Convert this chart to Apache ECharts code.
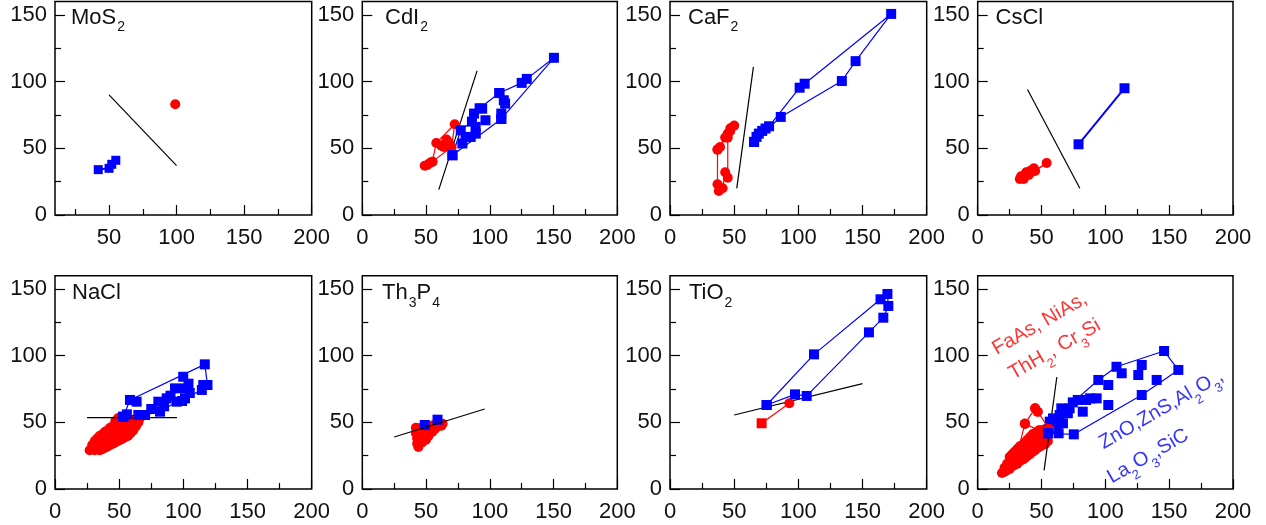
<!DOCTYPE html>
<html><head><meta charset="utf-8">
<script src="https://cdn.jsdelivr.net/npm/echarts@6/dist/echarts.min.js"></script>
<style>html,body{margin:0;padding:0;background:#fff}#c{width:1266px;height:525px}</style>
</head><body><div id="c"></div>
<script>
// ---------- tick labels ----------
const xMajor = [0, 50, 100, 150, 200];
const xMajorMoS2 = [50, 100, 150, 200];
const xMinor = [25, 75, 125, 175];
const yMajor = [0, 50, 100, 150];
const yMinor = [25, 75, 125];

// ---------- panel names ----------
const panelTitles = ['{a|MoS}{b|2}', '{a|CdI}{b|2}', '{a|CaF}{b|2}', '{a|CsCl}',
                     '{a|NaCl}', '{a|Th}{b|3}{a|P}{b|4}', '{a|TiO}{b|2}', ''];

// ---------- data ----------
// MoS2
const mos2Red = [[99, 83]];
const mos2Blue = [[42, 34], [50, 35], [52, 38], [55, 41]];
const mos2Line = [[50, 90], [100, 37]];
// CdI2
const cdi2RedPath = [[49, 37], [51, 37.5], [53, 39], [55, 40], [58, 54], [72.5, 68], [70, 51], [55, 40]];
const cdi2RedPts = [[64, 51], [66, 56.5], [68, 54], [62, 52]];
const cdi2BluePath = [[70.7, 44.8], [77.2, 63.5], [86, 70], [92, 80], [107.5, 91.4], [125, 99], [129, 102], [150.3, 117.8], [109, 72], [70.7, 44.8]];
const cdi2BluePath2 = [[107.5, 91.4], [111, 86], [112, 83.5], [109, 76], [109, 72]];
const cdi2BluePts = [[78.5, 53.6], [81, 58.5], [85, 58.5], [87.6, 76], [88.9, 66], [94, 79.7], [96.6, 71], [89, 61]];
const cdi2Line = [[60, 19], [90, 108]];
// CaF2
const caf2RedPath = [[37, 49], [39, 51], [43, 58], [45, 61], [47, 65], [50, 67], [47, 63], [45, 58], [45, 28], [43, 32], [41, 20], [38, 18], [37, 23], [37, 49]];
const caf2BluePath = [[65.5, 54.8], [67.4, 58.5], [69.2, 61], [71.8, 63], [74.4, 64.8], [77.2, 66.5], [101, 95.4], [104.9, 98.4], [172.3, 150.7], [144.6, 115.3], [133.9, 100.4], [86.3, 73.5], [65.5, 54.8]];
const caf2Line = [[52, 20], [65, 111]];
// CsCl
const csclRedPath = [[33, 27], [35, 28], [37, 29], [39, 31], [41, 33], [43, 34], [45, 33], [54, 39]];
const csclRedPts = [[34, 29], [36, 27], [38, 32], [40, 30], [42, 32], [44, 35]];
const csclBlue = [[79, 53], [115, 95]];
const csclLine = [[39, 94], [80, 20]];
// NaCl
const naclRed = [[27, 29], [29, 30], [29, 33], [31, 29], [31, 32], [31, 36], [33, 30], [33, 34], [33, 38], [35, 29],
  [35, 33], [35, 37], [35, 40], [37, 30], [37, 34], [37, 38], [37, 41], [39, 31], [39, 35], [39, 39], [39, 43],
  [41, 32], [41, 36], [41, 40], [41, 44], [43, 33], [43, 37], [43, 41], [43, 46], [45, 34], [45, 38], [45, 42],
  [45, 47], [47, 35], [47, 39], [47, 43], [47, 48], [47, 51], [49, 36], [49, 40], [49, 44], [49, 48], [49, 53],
  [51, 37], [51, 41], [51, 45], [51, 49], [51, 54], [53, 38], [53, 42], [53, 46], [53, 50], [55, 39], [55, 43],
  [55, 47], [55, 51], [57, 40], [57, 44], [57, 48], [59, 42], [59, 46], [59, 50], [61, 44], [61, 48], [61, 52],
  [63, 47], [63, 51], [65, 50], [66, 53]];
const naclBluePath = [[53.2, 54.2], [58.4, 66.8], [116.7, 93.5], [118.8, 78], [114.4, 74.3], [101.3, 68], [94.8, 65.5], [81.8, 58], [70.1, 55.5], [64.9, 55.5], [53.2, 54.2]];
const naclBluePts = [[63.6, 65.5], [80.5, 65.5], [87, 68], [93.5, 75.5], [99.9, 84.2], [101.3, 75.5], [104, 79], [99, 66], [115.5, 78], [56, 56], [75, 60], [85, 62], [90, 70], [105, 72]];
const naclLine = [[25, 53.5], [95, 53.5]];
// Th3P4
const th3p4Red = [[42, 46], [42, 42], [43, 38], [43, 34], [44, 31.5], [45, 44], [45, 37], [46, 41], [47, 35], [48, 45],
  [48, 39], [50, 42], [50, 37], [51, 46], [52, 40], [53, 44], [54, 47], [55, 43], [56, 48], [57, 45], [59, 47],
  [61, 49], [63, 49], [62, 47.5], [44, 40], [46, 46], [49, 47]];
const th3p4Blue = [[49, 48], [59, 52]];
const th3p4Line = [[25, 39], [96, 60]];
// TiO2
const tio2Red = [[71.4, 49.3], [93, 64.3]];
const tio2BluePath = [[75.3, 63], [112.2, 101], [164, 142.3], [169.4, 146.3], [170.1, 137.3], [166.2, 128.5], [155, 117.5], [106.5, 69.8], [97.4, 71], [75.3, 63]];
const tio2Line = [[50, 55.5], [150, 79]];
// mixed panel
const mixRedPts = [[19, 12], [21, 13], [21, 16], [23, 14], [23, 19], [25, 15], [25, 20], [25, 24], [27, 17], [27, 22],
  [27, 26], [29, 18], [29, 23], [29, 28], [31, 19], [31, 24], [31, 30], [33, 21], [33, 26], [33, 32], [35, 22],
  [35, 27], [35, 33], [37, 23], [37, 29], [37, 35], [39, 25], [39, 30], [39, 37], [41, 26], [41, 32], [41, 39],
  [43, 28], [43, 34], [43, 41], [45, 29], [45, 35], [45, 42], [47, 31], [47, 37], [47, 43], [49, 32], [49, 38],
  [49, 44], [51, 33], [51, 39], [51, 44], [53, 34], [53, 40], [53, 45], [55, 36], [55, 42], [56, 45],
  [37, 49], [45, 60.5], [47, 58]];
const mixRedPath = [[30, 23], [37, 49], [45, 60.5], [47, 58], [56, 45]];
const mixRedPath2 = [[37, 49], [48, 44]];
const mixBluePath = [[55.1, 41.8], [59, 53], [65.5, 60.5], [74.5, 65], [94.5, 81.8], [108.7, 91.7], [146, 103.5], [157.2, 89.3], [128.5, 70.5], [75.3, 41], [55.1, 41.8]];
const mixBluePts = [[56.4, 50.5], [60.3, 45.5], [61.6, 48], [63.4, 41.8], [64.2, 55.5], [66.8, 49.3], [68, 58], [70.6, 56.8],
  [72, 60.5], [78.4, 66.8], [82.3, 58], [84.9, 66.8], [88, 68], [93.2, 68], [102.3, 78], [102.3, 63], [112.8, 86.8],
  [125.8, 85.5], [128.5, 93], [140.2, 81.8]];
const mixLine = [[52, 14], [62, 84]];
const mixLabelsRed = [[48.8, 123.5, '{r|FaAs, NiAs,}'], [60.6, 104.3, '{r|ThH}{rs|2}{r|, Cr}{rs|3}{r|Si}']];
const mixLabelsBlue = [[144, 59.3, '{b|ZnO,ZnS,Al}{bs|2}{b|O}{bs|3}{b|,}'], [133.6, 24.2, '{b|La}{bs|2}{b|O}{bs|3}{b|,SiC}']];

// ---------- layout ----------
const FONT = "'Liberation Sans', Arial, Helvetica, sans-serif";
const RED = '#ff0000', BLUE = '#0000ff';
const layout = [
  [55, 1.5, 256.7, 213.5], [362.3, 1.5, 255, 213.5], [670, 1.5, 256.7, 213.5], [977.7, 1.5, 255.3, 213.5],
  [55, 275.7, 256.7, 213.3], [362.3, 275.7, 255, 213.3], [670, 275.7, 256.7, 213.3], [977.7, 275.7, 255.3, 213.3]
];
const titlePos = [[71, 6.5], [385, 6.5], [688, 6.5], [995.5, 6.5], [72, 282], [382, 282], [689, 282]];

const grids = [], xAxes = [], yAxes = [], titles = [], series = [];
const tickStyle = { color: '#000', width: 1.2 };
const labelStyle = { fontSize: 22, color: '#111', fontFamily: FONT, fontWeight: 'normal' };
layout.forEach((g, i) => {
  grids.push({ left: g[0], top: g[1], width: g[2], height: g[3], show: true, borderColor: '#000', borderWidth: 1.5, backgroundColor: 'transparent' });
  const xm = i === 0 ? xMajorMoS2 : xMajor;
  const xmin = i === 0 ? 10 : 0;
  xAxes.push({ type: 'value', gridIndex: i, min: xmin, max: 200, position: 'bottom',
    axisLine: { show: false, onZero: false }, splitLine: { show: false },
    axisTick: { show: true, inside: true, length: 10, customValues: xm, lineStyle: tickStyle },
    axisLabel: Object.assign({ show: true, customValues: xm, margin: 12 }, labelStyle) });
  xAxes.push({ type: 'value', gridIndex: i, min: xmin, max: 200, position: 'bottom',
    axisLine: { show: false, onZero: false }, splitLine: { show: false },
    axisTick: { show: true, inside: true, length: 6, customValues: xMinor, lineStyle: tickStyle },
    axisLabel: { show: false } });
  yAxes.push({ type: 'value', gridIndex: i, min: 0, max: 160, position: 'left',
    axisLine: { show: false, onZero: false }, splitLine: { show: false },
    axisTick: { show: true, inside: true, length: 10, customValues: yMajor, lineStyle: tickStyle },
    axisLabel: Object.assign({ show: true, customValues: yMajor, margin: 8 }, labelStyle) });
  yAxes.push({ type: 'value', gridIndex: i, min: 0, max: 160, position: 'left',
    axisLine: { show: false, onZero: false }, splitLine: { show: false },
    axisTick: { show: true, inside: true, length: 6, customValues: yMinor, lineStyle: tickStyle },
    axisLabel: { show: false } });
  if (panelTitles[i]) {
    titles.push({ text: panelTitles[i], left: titlePos[i][0], top: titlePos[i][1], padding: 0,
      textStyle: { fontWeight: 'normal', fontFamily: FONT, color: '#000', rich: {
        a: { fontSize: 22, fontFamily: FONT, fontWeight: 'normal', color: '#111', lineHeight: 23, verticalAlign: 'top' },
        b: { fontSize: 14, fontFamily: FONT, fontWeight: 'normal', color: '#111', lineHeight: 15, padding: [14, 0, 0, 1], verticalAlign: 'top' }
      } } });
  }
});

function path(i, data, color, symbol, width, size) {
  series.push({ type: 'line', xAxisIndex: 2 * i, yAxisIndex: 2 * i, data: data,
    symbol: symbol, symbolSize: size || 10, showSymbol: symbol !== 'none',
    lineStyle: { color: color, width: width }, itemStyle: { color: color },
    silent: true, animation: false, clip: false });
}
function pts(i, data, color, symbol, size) {
  series.push({ type: 'scatter', xAxisIndex: 2 * i, yAxisIndex: 2 * i, data: data,
    symbol: symbol, symbolSize: size || 10, itemStyle: { color: color, opacity: 1 },
    silent: true, animation: false });
}

// MoS2
pts(0, mos2Red, RED, 'circle', 10);
path(0, mos2Blue, BLUE, 'rect', 2, 9);
path(0, mos2Line, '#000', 'none', 1.2);
// CdI2
path(1, cdi2RedPath, RED, 'circle', 1.2);
pts(1, cdi2RedPts, RED, 'circle');
path(1, cdi2BluePath, BLUE, 'rect', 1.2);
path(1, cdi2BluePath2, BLUE, 'rect', 1.2);
pts(1, cdi2BluePts, BLUE, 'rect');
path(1, cdi2Line, '#000', 'none', 1.2);
// CaF2
path(2, caf2RedPath, RED, 'circle', 1.2);
path(2, caf2BluePath, BLUE, 'rect', 1.2);
path(2, caf2Line, '#000', 'none', 1.2);
// CsCl
path(3, csclRedPath, RED, 'circle', 1.5);
pts(3, csclRedPts, RED, 'circle');
path(3, csclBlue, BLUE, 'rect', 2);
path(3, csclLine, '#000', 'none', 1.2);
// NaCl
pts(4, naclRed, RED, 'circle', 10);
path(4, naclBluePath, BLUE, 'rect', 1.2);
pts(4, naclBluePts, BLUE, 'rect');
path(4, naclLine, '#000', 'none', 1.2);
// Th3P4
pts(5, th3p4Red, RED, 'circle', 10);
pts(5, th3p4Blue, BLUE, 'rect', 10);
path(5, th3p4Line, '#000', 'none', 1.2);
// TiO2
const tio2RedSymbols = ['rect', 'circle'];
path(6, tio2Red.map((v, k) => ({ value: v, symbol: tio2RedSymbols[k] })), RED, 'circle', 1.2);
path(6, tio2BluePath, BLUE, 'rect', 1.2);
path(6, tio2Line, '#000', 'none', 1.2);
// mixed
pts(7, mixRedPts, RED, 'circle', 10);
path(7, mixRedPath, RED, 'circle', 1.2);
path(7, mixRedPath2, RED, 'circle', 1.2);
path(7, mixBluePath, BLUE, 'rect', 1.2);
pts(7, mixBluePts, BLUE, 'rect');
path(7, mixLine, '#000', 'none', 1.2);

function annot(list, color, key) {
  const rich = {};
  rich[key] = { fontSize: 20, fontFamily: FONT, color: color, lineHeight: 21, verticalAlign: 'top' };
  rich[key + 's'] = { fontSize: 13, fontFamily: FONT, color: color, lineHeight: 14, padding: [14, 0, 0, 0], verticalAlign: 'top' };
  series.push({ type: 'scatter', xAxisIndex: 14, yAxisIndex: 14, symbolSize: 0, silent: true, animation: false,
    itemStyle: { color: 'transparent' },
    data: list.map(d => ({ value: [d[0], d[1]], label: { formatter: d[2] } })),
    label: { show: true, position: 'inside', rotate: 30, align: 'center', verticalAlign: 'middle', rich: rich } });
}
annot(mixLabelsRed, RED, 'r');
annot(mixLabelsBlue, BLUE, 'b');

const chart = echarts.init(document.getElementById('c'), null, { renderer: 'canvas' });
chart.setOption({ animation: false, backgroundColor: '#fff', title: titles, grid: grids, xAxis: xAxes, yAxis: yAxes, series: series });
</script></body></html>
